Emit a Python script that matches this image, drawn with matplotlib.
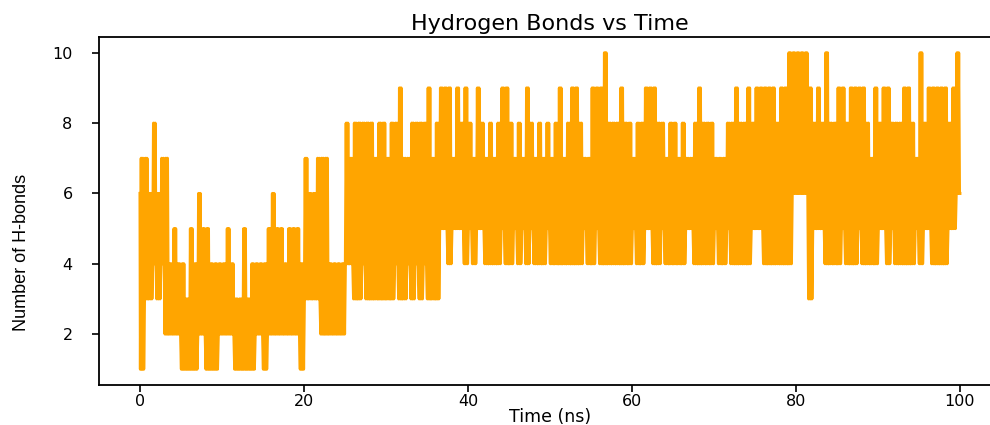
import numpy as np
import matplotlib
matplotlib.use("Agg")
import matplotlib.pyplot as plt

# H-bond count: highest and lowest value inside each 0.5 ns window
window_ns = 0.5
hb_max = [
    7, 7, 6, 8, 6, 7, 7, 4, 5, 4,      # 0 - 5 ns
    4, 3, 5, 4, 6, 5, 5, 4, 4, 4,
    4, 5, 4, 3, 3, 5, 3, 4, 4, 4,      # 10 - 15 ns
    4, 5, 6, 5, 5, 4, 5, 5, 5, 4,
    7, 6, 6, 7, 7, 7, 4, 4, 4, 4,      # 20 - 25 ns
    8, 7, 8, 8, 8, 8, 8, 7, 8, 8,
    7, 8, 8, 9, 7, 7, 8, 8, 8, 8,      # 30 - 35 ns
    9, 7, 8, 9, 9, 9, 7, 9, 8, 9,
    8, 7, 9, 8, 7, 8, 7, 8, 9, 9,      # 40 - 45 ns
    8, 7, 8, 7, 9, 8, 7, 8, 7, 8,
    7, 8, 9, 7, 8, 9, 9, 8, 7, 7,      # 50 - 55 ns
    9, 9, 9, 10, 8, 8, 8, 9, 8, 8,
    7, 8, 8, 9, 9, 9, 8, 8, 7, 8,      # 60 - 65 ns
    8, 7, 8, 7, 7, 8, 9, 8, 8, 8,
    7, 7, 7, 8, 8, 9, 8, 8, 9, 8,      # 70 - 75 ns
    9, 9, 9, 9, 9, 8, 9, 9, 10, 10,
    10, 10, 10, 9, 8, 9, 8, 10, 8, 8,  # 80 - 85 ns
    9, 9, 8, 9, 9, 9, 9, 8, 7, 9,
    8, 9, 9, 8, 8, 8, 9, 9, 8, 7,      # 90 - 95 ns
    10, 8, 9, 9, 9, 9, 9, 8, 9, 10,
]
hb_min = [
    1, 3, 3, 4, 3, 4, 2, 2, 2, 2,      # 0 - 5 ns
    1, 1, 1, 1, 2, 2, 1, 1, 1, 2,
    2, 2, 2, 1, 1, 1, 1, 1, 2, 2,      # 10 - 15 ns
    1, 2, 2, 2, 2, 2, 2, 2, 2, 1,
    3, 3, 3, 3, 2, 2, 2, 2, 2, 2,      # 20 - 25 ns
    4, 4, 3, 3, 4, 3, 3, 3, 3, 3,
    3, 3, 4, 3, 3, 4, 3, 4, 3, 4,      # 30 - 35 ns
    3, 3, 3, 5, 5, 4, 5, 5, 5, 4,
    5, 4, 5, 5, 4, 4, 4, 4, 5, 4,      # 40 - 45 ns
    4, 5, 4, 5, 4, 5, 4, 4, 4, 5,
    4, 4, 4, 4, 4, 4, 4, 4, 5, 4,      # 50 - 55 ns
    4, 5, 4, 4, 4, 4, 4, 4, 4, 4,
    5, 4, 4, 5, 5, 4, 4, 5, 4, 4,      # 60 - 65 ns
    4, 4, 4, 5, 5, 4, 4, 4, 4, 4,
    5, 4, 4, 5, 4, 4, 4, 4, 4, 5,      # 70 - 75 ns
    5, 5, 4, 4, 4, 4, 4, 4, 4, 6,
    6, 6, 6, 3, 5, 5, 5, 4, 4, 4,      # 80 - 85 ns
    4, 5, 4, 4, 4, 5, 4, 4, 4, 4,
    5, 5, 4, 5, 4, 4, 4, 4, 4, 5,      # 90 - 95 ns
    4, 5, 5, 4, 4, 4, 4, 5, 5, 6,
]
hb_first = 6
hb_last = 6


def build_trace():
    # frames inside each window swing between its low and high count
    time_ns = [0.0]
    hbonds = [hb_first]
    for index, (high, low) in enumerate(zip(hb_max, hb_min)):
        start = index * window_ns
        time_ns += [start + 0.05, start + 0.15, start + 0.25, start + 0.35, start + 0.45]
        hbonds += [low, high, low, high, low]
    time_ns.append(len(hb_max) * window_ns)
    hbonds.append(hb_last)
    return np.array(time_ns), np.array(hbonds)


def plot_hbonds():
    time_ns, hbonds = build_trace()

    figure = plt.figure(figsize=(9.9, 4.25), dpi=100)
    plot_axes = figure.add_axes([0.100, 0.094, 0.911, 0.819])

    plot_axes.plot(time_ns, hbonds, color="orange", lw=2.2)

    plot_axes.set_title("Hydrogen Bonds vs Time", fontsize=16, pad=5)
    plot_axes.set_xlabel("Time (ns)", fontsize=12.5, labelpad=-1)
    plot_axes.set_ylabel("Number of H-bonds", fontsize=13,
                         family=["Liberation Sans Narrow", "Liberation Sans", "DejaVu Sans"])
    plot_axes.yaxis.set_label_coords(-0.077, 0.38)
    plot_axes.set_yticks([2, 4, 6, 8, 10])
    plot_axes.set_xticks([0, 20, 40, 60, 80, 100])
    plot_axes.tick_params(labelsize=11.5, length=5, width=1.2)
    plot_axes.tick_params(axis="x", pad=1.5)
    plot_axes.tick_params(axis="y", pad=14)
    for spine in plot_axes.spines.values():
        spine.set_linewidth(1.3)

    figure.savefig("out.png", dpi=100)


if __name__ == "__main__":
    plot_hbonds()
